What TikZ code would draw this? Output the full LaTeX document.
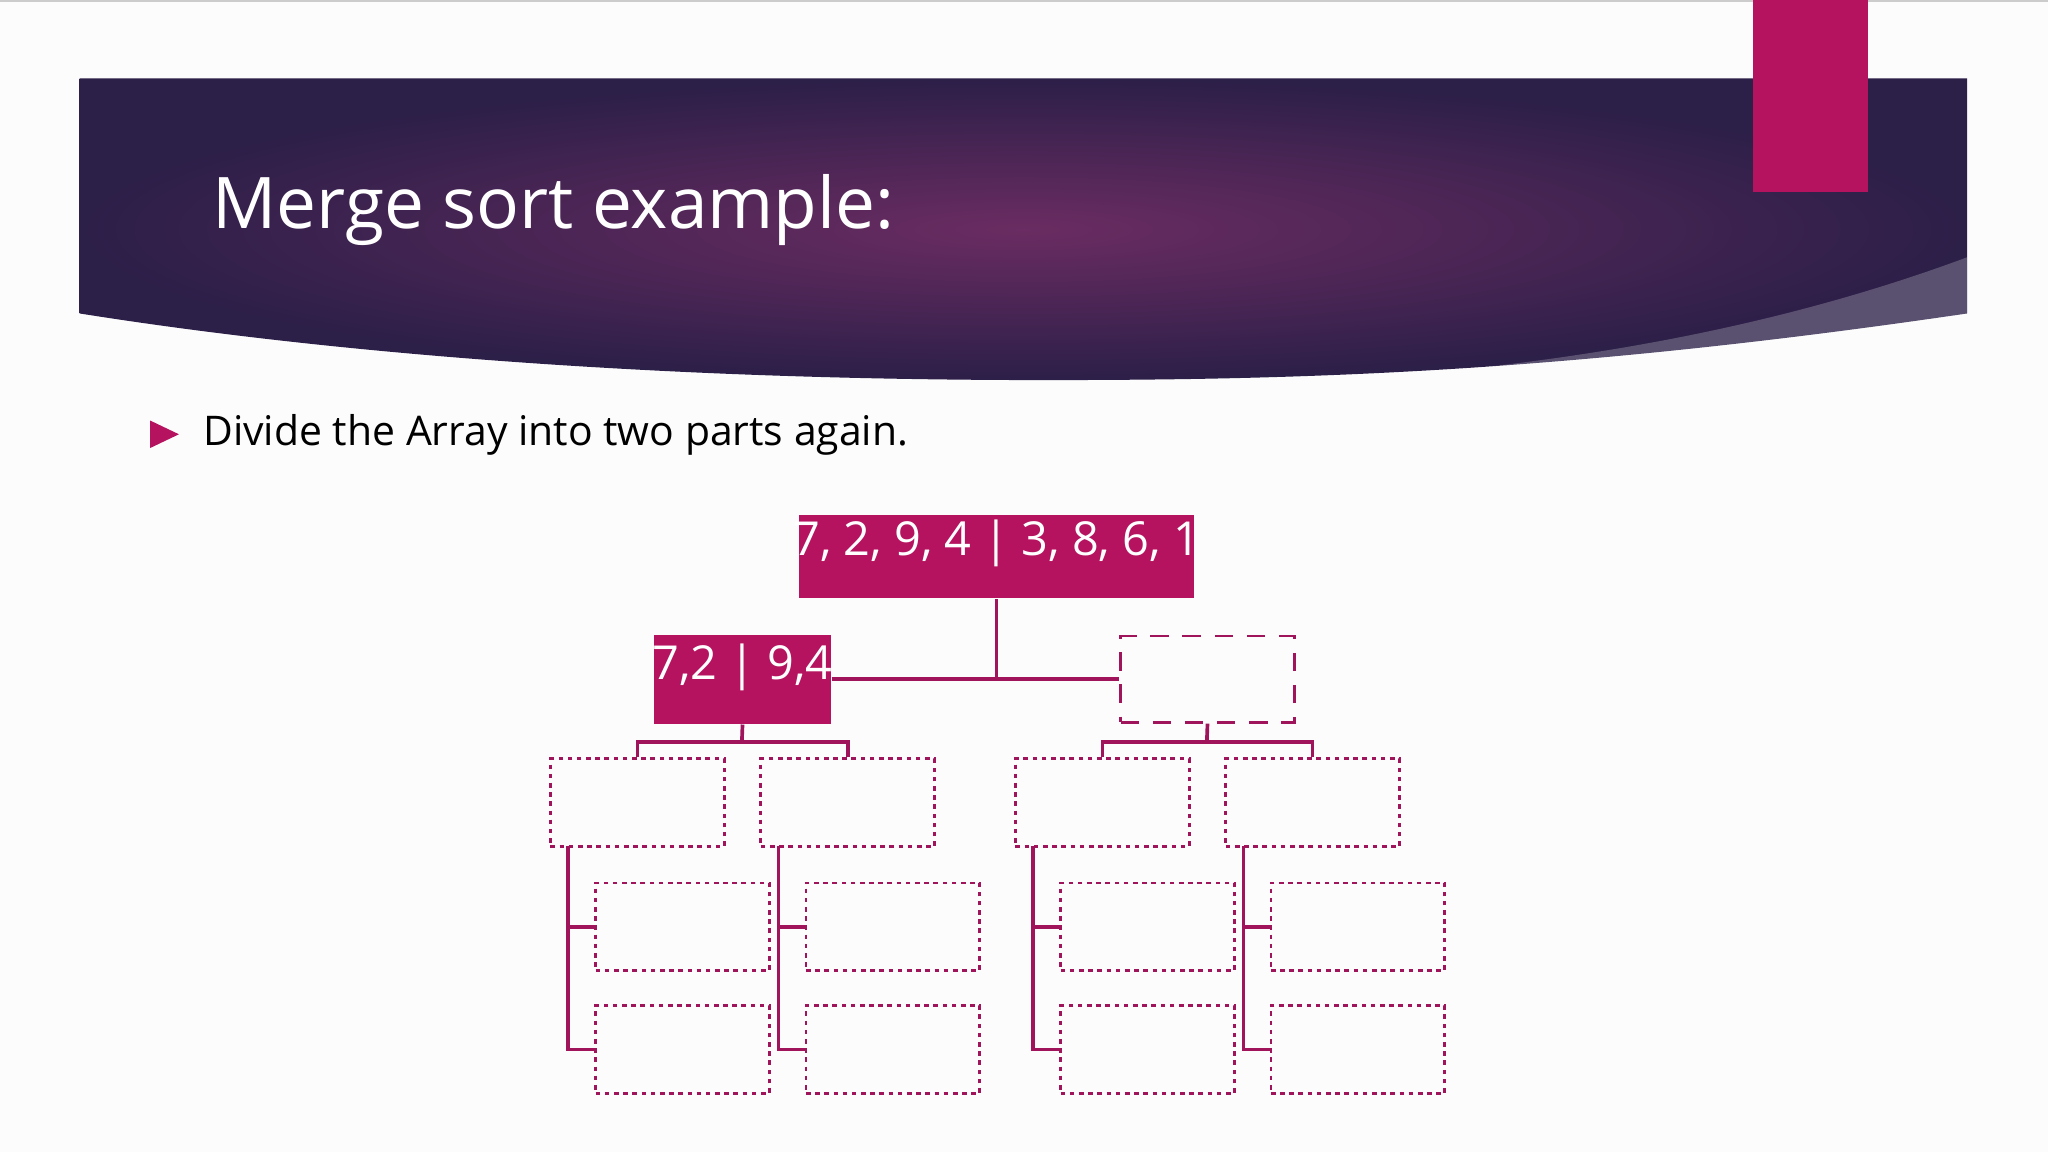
\documentclass[tikz,border=0pt]{standalone}
\usepackage{fontspec}
\setmainfont{Open Sans}
\definecolor{mag}{HTML}{B5135F}
\definecolor{lin}{HTML}{A0145C}
\definecolor{bdark}{HTML}{2C1F48}
\definecolor{bmid}{HTML}{6A2C62}
\begin{document}
\begin{tikzpicture}[x=0.01cm,y=-0.01cm,
  filled/.style={fill=mag,text=white,inner sep=0pt,font=\fontsize{10.2}{12}\selectfont},
  dashbox/.style={draw=lin,line width=0.6pt,dash pattern=on 4pt off 3pt},
  dotbox/.style={draw=lin,line width=0.6pt,dash pattern=on 1pt off 1pt,minimum width=1.33cm,minimum height=0.67cm,inner sep=0pt},
  conn/.style={draw=lin,line width=0.8pt}]
\useasboundingbox (0,0) rectangle (1568,882);
\fill[white!98!gray] (0,0) rectangle (1568,882);
\draw[gray!40,line width=0.4pt] (0,0.5) -- (1568,0.5);
% banner
\shade[inner color=bmid,outer color=bdark] (61,60) -- (1506,60) -- (1506,240) .. controls (1200,285) and (1000,291) .. (800,291) .. controls (500,291) and (250,270) .. (61,240) -- cycle;
\fill[white,opacity=0.22] (1506,197) .. controls (1350,255) and (1200,275) .. (1100,285) .. controls (1250,275) and (1400,258) .. (1506,240) -- cycle;
\fill[mag] (1342,0) rectangle (1430,147);
\node[anchor=base west,text=white,inner sep=0pt,font=\fontsize{15.5}{18}\selectfont] (title) at (162,175) {Merge sort example:};
\fill[mag] (115,322) -- (137,332.5) -- (115,343) -- cycle;
\node[anchor=west,inner sep=0pt,font=\fontsize{8.9}{11}\selectfont] (bul) at (155,333) {Divide the Array into two parts again.};
% tree
\node[filled,minimum width=3.02cm,minimum height=0.64cm] (root) at (763,426) {};
\node[filled,fill=none,anchor=center] (rootlbl) at (763,416) {7, 2, 9, 4 | 3, 8, 6, 1};
\node[filled,minimum width=1.35cm,minimum height=0.68cm] (L) at (568.5,520) {};
\node[filled,fill=none] (Llbl) at (568.5,511) {7,2 | 9,4};
\node[dashbox,minimum width=1.33cm,minimum height=0.66cm] (R) at (924.5,520) {};
\draw[conn] (root.south) -- (763,520);
\draw[conn] (L.east) -- (R.west);
\foreach \n/\x in {a/488,b/649,c/844,d/1005}{
  \node[dotbox] (\n) at (\x,614.5) {};
}
\draw[conn] (L.south) -- (568,568);
\draw[conn] (a.north) -- (488,568) -- (649,568) -- (b.north);
\draw[conn] (R.south) -- (924,568);
\draw[conn] (c.north) -- (844,568) -- (1005,568) -- (d.north);
\foreach \n/\x in {a/435,b/596,c/791,d/952}{
  \coordinate (\n t) at (\x,648);
  \node[dotbox,anchor=west] (\n1) at (\x+20,709.5) {};
  \node[dotbox,anchor=west] (\n2) at (\x+20,803.5) {};
  \draw[conn] (\n t) |- (\n2.west);
  \draw[conn] (\x,709.5) -- (\n1.west);
}
\end{tikzpicture}
\end{document}
